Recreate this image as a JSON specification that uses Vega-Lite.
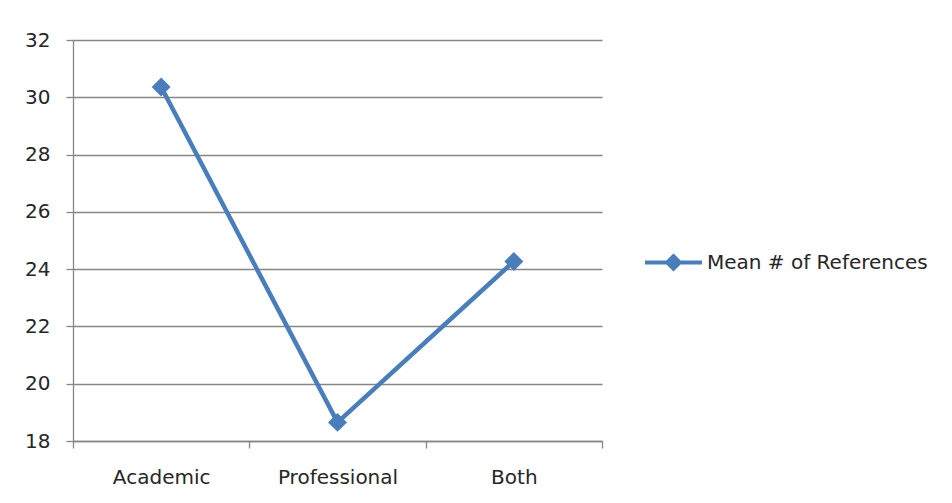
{
  "$schema": "https://vega.github.io/schema/vega-lite/v6.json",
  "width": 529,
  "height": 401,
  "autosize": {"type": "none"},
  "padding": {"left": 73, "top": 40, "right": 350, "bottom": 62},
  "background": "white",
  "config": {
    "view": {"stroke": null},
    "font": "DejaVu Sans",
    "axis": {
      "title": null,
      "domainColor": "#868686",
      "domainWidth": 1.3,
      "tickColor": "#868686",
      "tickWidth": 1.3,
      "tickSize": 7,
      "gridColor": "#868686",
      "gridWidth": 1.3,
      "gridOpacity": 1,
      "labelColor": "#262626",
      "labelFontSize": 20,
      "labelFont": "DejaVu Sans"
    }
  },
  "data": {
    "values": [
      {"type": "Academic", "series": "Mean # of References", "mean": 30.36},
      {"type": "Professional", "series": "Mean # of References", "mean": 18.65},
      {"type": "Both", "series": "Mean # of References", "mean": 24.27}
    ]
  },
  "encoding": {
    "x": {
      "field": "type",
      "type": "nominal",
      "sort": null,
      "scale": {"type": "band", "paddingInner": 0, "paddingOuter": 0},
      "axis": {"labelAngle": 0, "tickBand": "extent", "labelPadding": 19, "grid": false}
    },
    "y": {
      "field": "mean",
      "type": "quantitative",
      "scale": {"domain": [18, 32], "nice": false, "zero": false},
      "axis": {"values": [18, 20, 22, 24, 26, 28, 30, 32], "labelPadding": 16, "grid": true}
    }
  },
  "layer": [
    {
      "mark": {"type": "line", "strokeWidth": 4.5},
      "encoding": {
        "color": {
          "field": "series",
          "type": "nominal",
          "scale": {"range": ["#4A7EBB"]},
          "legend": {
            "title": null,
            "orient": "none",
            "legendX": 570,
            "legendY": 192,
            "padding": 0,
            "symbolType": "M-1,0H1M-0.22,0L0,-0.22L0.22,0L0,0.22Z",
            "symbolSize": 3249,
            "symbolStrokeWidth": 4,
            "symbolFillColor": "#4A7EBB",
            "symbolStrokeColor": "#4A7EBB",
            "labelFontSize": 20,
            "labelColor": "#262626",
            "labelFont": "DejaVu Sans",
            "labelLimit": 400,
            "labelOffset": 3
          }
        }
      }
    },
    {
      "mark": {"type": "point", "shape": "diamond", "filled": true, "size": 360, "color": "#4A7EBB", "opacity": 1}
    }
  ]
}
